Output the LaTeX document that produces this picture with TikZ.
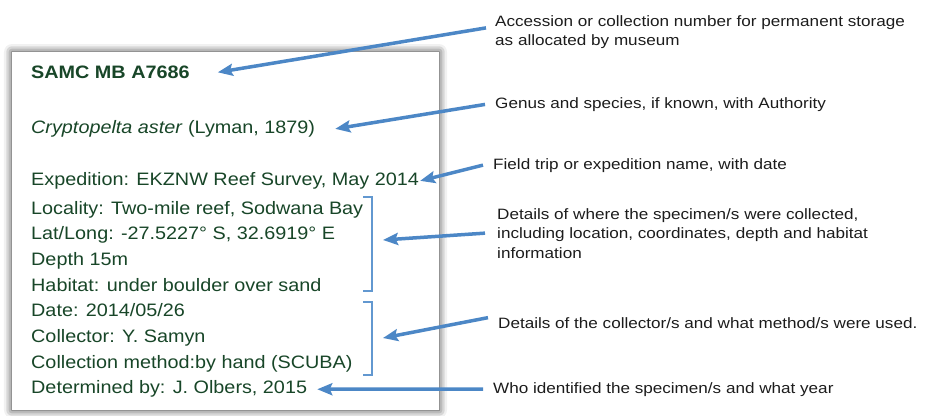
\documentclass[tikz,border=0pt]{standalone}
\usepackage{fontspec}
\setmainfont{Liberation Sans}[FakeStretch=1.1]
\newfontfamily\notefont{Liberation Sans}[FakeStretch=1.14]
\usetikzlibrary{arrows.meta,shadows.blur}

\definecolor{tagtext}{RGB}{24,70,40}
\definecolor{pointblue}{RGB}{76,135,198}
\definecolor{bracketblue}{RGB}{98,152,208}
\definecolor{notetext}{RGB}{28,28,28}

\tikzset{
  card/.style={fill=white,
    blur shadow={shadow xshift=0pt, shadow yshift=0pt,
      shadow blur radius=8pt, shadow opacity=85}},
  entry/.style={anchor=base west, inner sep=0pt, text=tagtext,
    font=\fontsize{18}{22}\selectfont},
  note/.style={anchor=base west, inner sep=0pt, align=left, text=notetext,
    font=\notefont\fontsize{15}{19.5}\selectfont},
  pointer/.style={draw=pointblue, line width=3.5pt,
    -{Stealth[length=15pt,width=12pt,inset=2.5pt]}},
  bracket/.style={draw=bracketblue, line width=1.4pt},
}

\begin{document}
\begin{tikzpicture}[x=1pt,y=-1pt]
\useasboundingbox (0,0) rectangle (925,415);

% the label card
\fill[card] (12,52) rectangle (439,410);

\node[entry, font=\bfseries\fontsize{18}{22}\selectfont] (samc) at (31,78.5) {SAMC MB A7686};
\node[entry] (species) at (31,133.5) {\textit{Cryptopelta aster} (Lyman, 1879)};
\node[entry] (expedition) at (31,185.5) {Expedition: EKZNW Reef Survey, May 2014};
\node[entry] (locality) at (31,214) {Locality: Two-mile reef, Sodwana Bay};
\node[entry] (latlong) at (31,239.7) {Lat/Long: -27.5227° S, 32.6919° E};
\node[entry] (depth) at (31,265.4) {Depth 15m};
\node[entry] (habitat) at (31,291.1) {Habitat: under boulder over sand};
\node[entry] (date) at (31,316.8) {Date: 2014/05/26};
\node[entry] (collector) at (31,342.5) {Collector: Y. Samyn};
\node[entry] (method) at (31,368.2) {Collection method:by hand (SCUBA)};
\node[entry] (determined) at (31,393.9) {Determined by: J. Olbers, 2015};

% brackets round the place and the collecting lines
\draw[bracket] (363,197) -- (372,197) -- (372,291) -- (363,291);
\draw[bracket] (363,302) -- (372,302) -- (372,375) -- (363,375);
\coordinate (placebr) at (372,240);
\coordinate (collbr) at (372,338);

% notes on the right (multi-line ones sit on their last line)
\node[note] (accession) at (495,45.5) {Accession or collection number for permanent storage\\as allocated by museum};
\node[note] (genus) at (495,108.3) {Genus and species, if known, with Authority};
\node[note] (trip) at (493,169) {Field trip or expedition name, with date};
\node[note] (where) at (497,258) {Details of where the specimen/s were collected,\\including location, coordinates, depth and habitat\\information};
\node[note] (how) at (498,328) {Details of the collector/s and what method/s were used.};
\node[note] (who) at (493,393) {Who identified the specimen/s and what year};

\draw[pointer] ([xshift=-9pt,yshift=4pt]accession.west) -- ([xshift=28pt]samc.east);
\draw[pointer] ([xshift=-10pt]genus.west) -- ([xshift=20pt]species.east);
\draw[pointer] ([xshift=-10pt]trip.west) -- ([xshift=1pt]expedition.east);
\draw[pointer] ([xshift=-12pt]where.west) -- ([xshift=11pt]placebr);
\draw[pointer] ([xshift=-10pt,yshift=5pt]how.west) -- ([xshift=11pt]collbr);
\draw[pointer] ([xshift=-10pt]who.west) -- ([xshift=10pt]determined.east);
\end{tikzpicture}
\end{document}
